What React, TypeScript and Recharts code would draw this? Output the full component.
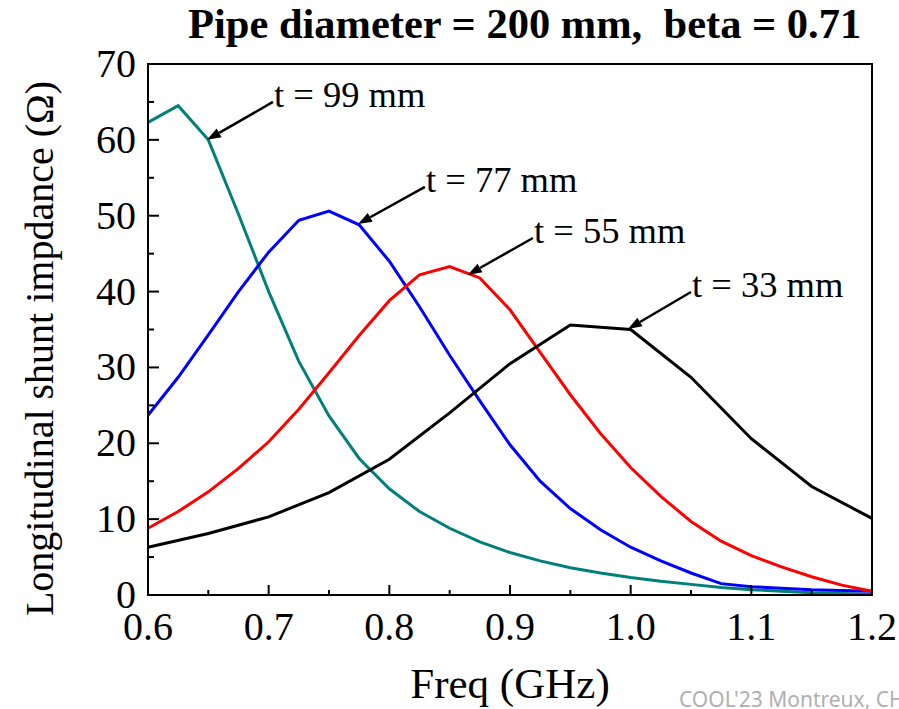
import { LineChart, Line, XAxis, YAxis, ReferenceArea, ReferenceLine, Label } from 'recharts'

const FONT = '"Times New Roman", "Liberation Serif", serif'

// frequency grid (GHz)
const freq = [
  0.6, 0.625, 0.65, 0.675, 0.7, 0.725, 0.75, 0.775, 0.8, 0.825, 0.85, 0.875, 0.9,
  0.925, 0.95, 0.975, 1.0, 1.025, 1.05, 1.075, 1.1, 1.125, 1.15, 1.175, 1.2,
]

// longitudinal shunt impedance (Ohm) for each thickness
const t99 = [
  62.3, 64.5, 60.0, 50.2, 40.0, 30.8, 23.6, 18.0, 14.0, 11.0, 8.8, 7.0, 5.6,
  4.5, 3.6, 2.9, 2.3, 1.8, 1.4, 1.0, 0.7, 0.5, 0.3, 0.2, 0.1,
]
const t77 = [
  23.7, 28.7, 34.3, 40.0, 45.2, 49.4, 50.6, 48.8, 44.0, 38.0, 31.6, 25.6, 19.8,
  15.0, 11.4, 8.6, 6.3, 4.5, 2.9, 1.5, 1.1, 0.9, 0.7, 0.6, 0.5,
]
const t55 = [
  8.8, 11.0, 13.6, 16.7, 20.2, 24.5, 29.3, 34.2, 38.8, 42.2, 43.3, 41.8, 37.6,
  32.0, 26.4, 21.3, 16.8, 13.0, 9.7, 7.1, 5.2, 3.7, 2.4, 1.3, 0.5,
]
// t = 33 mm was only computed every 0.05 GHz
const t33 = [
  6.3, null, 8.1, null, 10.3, null, 13.5, null, 17.9, null, 24.0, null, 30.5,
  null, 35.6, null, 35.0, null, 28.7, null, 20.6, null, 14.3, null, 10.1,
]

const xTicks = [0.6, 0.65, 0.7, 0.75, 0.8, 0.85, 0.9, 0.95, 1.0, 1.05, 1.1, 1.15, 1.2]
const xMajor = [0.6, 0.7, 0.8, 0.9, 1.0, 1.1, 1.2]
const yTicks = [0, 5, 10, 15, 20, 25, 30, 35, 40, 45, 50, 55, 60, 65, 70]

// annotation arrows: label, start (text side), tip
const notes = [
  { text: 't = 99 mm', from: [0.7036, 65.0], to: [0.6489, 60.0] },
  { text: 't = 77 mm', from: [0.8295, 53.8], to: [0.774, 48.9] },
  { text: 't = 55 mm', from: [0.919, 47.06], to: [0.865, 42.2] },
  { text: 't = 33 mm', from: [1.05, 39.94], to: [0.9977, 35.06] },
]

const data = freq.map((f, i) => ({ freq: f, t99: t99[i], t77: t77[i], t55: t55[i], t33: t33[i] }))

const XTick = (props: any) => {
  const { x, y, payload } = props
  const major = xMajor.some((m) => Math.abs(m - payload.value) < 1e-6)
  return (
    <g>
      <line x1={x} y1={y} x2={x} y2={y - (major ? 10 : 5)} stroke="#000" strokeWidth={2} />
      {major && (
        <text x={x} y={y + 45} textAnchor="middle" fontFamily={FONT} fontSize={40} fill="#000">
          {payload.value.toFixed(1)}
        </text>
      )}
    </g>
  )
}

const YTick = (props: any) => {
  const { x, y, payload } = props
  const major = payload.value % 10 === 0
  return (
    <g>
      <line x1={x} y1={y} x2={x + (major ? 11 : 6)} y2={y} stroke="#000" strokeWidth={2} />
      {major && (
        <text x={x - 12} y={y + 13} textAnchor="end" fontFamily={FONT} fontSize={40} fill="#000">
          {payload.value}
        </text>
      )}
    </g>
  )
}

const arrow = (text: string) => (p: any) => {
  const { x1, y1, x2, y2 } = p
  const dx = x2 - x1
  const dy = y2 - y1
  const len = Math.sqrt(dx * dx + dy * dy)
  const ux = dx / len
  const uy = dy / len
  const bx = x2 - ux * 14
  const by = y2 - uy * 14
  const px = -uy * 5
  const py = ux * 5
  return (
    <g>
      <line x1={x1} y1={y1} x2={bx} y2={by} stroke="#000" strokeWidth={2.5} />
      <polygon points={`${x2},${y2} ${bx + px},${by + py} ${bx - px},${by - py}`} fill="#000" />
      <text x={x1 + 1} y={y1 + 5} fontFamily={FONT} fontSize={36.5} fill="#000">
        {text}
      </text>
    </g>
  )
}

export default function App() {
  return (
    <div style={{ position: 'absolute', left: 0, top: 0, width: 899, height: 709, background: '#fff', overflow: 'hidden' }}>
      <LineChart width={899} height={709} data={data} margin={{ top: 64, right: 27, bottom: 0, left: 0 }}>
        <XAxis
          dataKey="freq"
          type="number"
          domain={[0.6, 1.2]}
          ticks={xTicks}
          interval={0}
          height={114}
          tickSize={0}
          tickMargin={0}
          tickLine={false}
          tick={XTick}
          axisLine={{ stroke: '#000', strokeWidth: 2 }}
        >
          <Label
            content={(p: any) => (
              <g>
                <text
                  x={p.viewBox.x + p.viewBox.width / 2}
                  y={p.viewBox.y + 103}
                  textAnchor="middle"
                  fontFamily={FONT}
                  fontSize={43}
                  fill="#000"
                >
                  Freq (GHz)
                </text>
                <text x={679} y={p.viewBox.y + 112} fontFamily='"Noto Sans", sans-serif' fontSize={21} fill="#b0b0b0">
                  COOL'23  Montreux, CH
                </text>
              </g>
            )}
          />
        </XAxis>
        <YAxis
          type="number"
          domain={[0, 70]}
          ticks={yTicks}
          interval={0}
          width={148}
          tickSize={0}
          tickMargin={0}
          tickLine={false}
          tick={YTick}
          axisLine={{ stroke: '#000', strokeWidth: 2 }}
        >
          <Label
            content={(p: any) => {
              const cx = 53
              const cy = p.viewBox.y + p.viewBox.height / 2 + 19
              return (
                <text
                  x={cx}
                  y={cy}
                  transform={`rotate(-90, ${cx}, ${cy})`}
                  textAnchor="middle"
                  fontFamily={FONT}
                  fontSize={40}
                  fill="#000"
                >
                  Longitudinal shunt impdance (Ω)
                </text>
              )
            }}
          />
        </YAxis>
        <ReferenceArea
          x1={0.6}
          x2={1.2}
          y1={0}
          y2={70}
          fill="none"
          stroke="#000"
          strokeWidth={2}
          label={(p: any) => (
            <text
              x={188}
              y={p.viewBox.y - 26}
              fontFamily={FONT}
              fontWeight="bold"
              fontSize={42.5}
              fill="#000"
              style={{ whiteSpace: 'pre' }}
            >
              {'Pipe diameter = 200 mm,  beta = 0.71'}
            </text>
          )}
        />
        <Line dataKey="t99" stroke="#008078" strokeWidth={3} dot={false} isAnimationActive={false} />
        <Line dataKey="t77" stroke="#0000ff" strokeWidth={3} dot={false} isAnimationActive={false} />
        <Line dataKey="t55" stroke="#ff0000" strokeWidth={3} dot={false} isAnimationActive={false} />
        <Line dataKey="t33" stroke="#000000" strokeWidth={3} dot={false} connectNulls isAnimationActive={false} />
        {notes.map((n) => (
          <ReferenceLine
            key={n.text}
            segment={[
              { x: n.from[0], y: n.from[1] },
              { x: n.to[0], y: n.to[1] },
            ]}
            shape={arrow(n.text)}
          />
        ))}
      </LineChart>
    </div>
  )
}
